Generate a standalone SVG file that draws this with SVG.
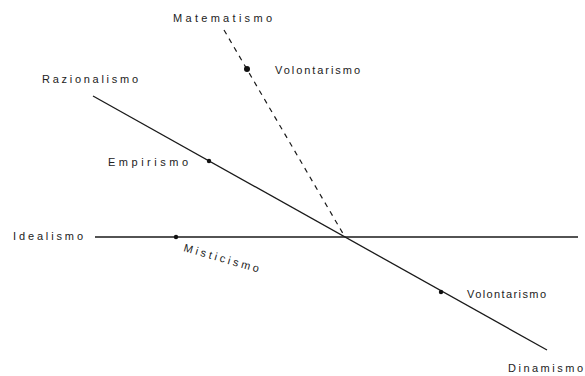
<svg xmlns="http://www.w3.org/2000/svg" width="585" height="376" viewBox="0 0 585 376">
<style>
.t{font-family:"Liberation Sans",Arial,sans-serif;font-size:11px;fill:#222;}
.l{stroke:#1a1a1a;stroke-width:1.3;fill:none;}
.d{stroke:#1a1a1a;stroke-width:1.2;fill:none;stroke-dasharray:5,5;}
.p{fill:#111;}
</style>
<rect width="585" height="376" fill="#fff"/>
<g id="connectors">
<line class="l" x1="93" y1="96" x2="547" y2="350"/>
<line class="l" x1="95" y1="237" x2="578" y2="237"/>
<line class="d" x1="224" y1="30" x2="345" y2="237"/>
</g>
<g id="matematismo"><text class="t" x="173" y="22" textLength="99" lengthAdjust="spacing">Matematismo</text></g>
<g id="volontarismo-top"><circle class="p" cx="247" cy="69" r="3"/><text class="t" x="275" y="74" textLength="85" lengthAdjust="spacing">Volontarismo</text></g>
<g id="razionalismo"><text class="t" x="42" y="83" textLength="96" lengthAdjust="spacing">Razionalismo</text></g>
<g id="empirismo"><circle class="p" cx="209" cy="161" r="2.2"/><text class="t" x="108" y="166" textLength="80" lengthAdjust="spacing">Empirismo</text></g>
<g id="idealismo"><text class="t" x="13" y="240" textLength="70" lengthAdjust="spacing">Idealismo</text></g>
<g id="misticismo"><circle class="p" cx="176" cy="237" r="2.2"/><text class="t" transform="translate(183,251) rotate(16)" x="0" y="0" textLength="78" lengthAdjust="spacing">Misticismo</text></g>
<g id="volontarismo-bottom"><circle class="p" cx="441" cy="292" r="2.2"/><text class="t" x="467" y="298" textLength="79" lengthAdjust="spacing">Volontarismo</text></g>
<g id="dinamismo"><text class="t" x="508" y="372" textLength="75" lengthAdjust="spacing">Dinamismo</text></g>
</svg>
